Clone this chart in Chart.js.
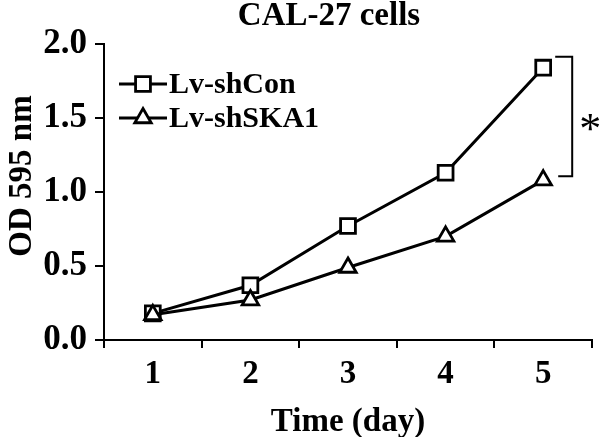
<!DOCTYPE html>
<html><head><meta charset="utf-8">
<script src="https://cdn.jsdelivr.net/npm/chart.js@4/dist/chart.umd.min.js"></script>
<style>html,body{margin:0;padding:0;background:#fff;} #wrap{width:600px;height:437px;position:relative;}</style>
</head><body><div id="wrap"><canvas id="c" width="600" height="437"></canvas></div>
<script>
const days = ['1', '2', '3', '4', '5'];
const shCon = [0.18, 0.37, 0.77, 1.13, 1.84];
const shSKA1 = [0.17, 0.27, 0.49, 0.70, 1.08];
const yTicks = [0, 0.5, 1.0, 1.5, 2.0];
const seriesNames = ['Lv-shCon', 'Lv-shSKA1'];
const chartTitle = 'CAL-27 cells';
const xTitle = 'Time (day)';
const yTitle = 'OD 595 nm';
const sigMark = '*';

const FONT = '"Liberation Serif", "Times New Roman", serif';

function marker(ctx, style, r, x, y) {
  ctx.save();
  ctx.lineWidth = 2.8;
  ctx.strokeStyle = '#000';
  ctx.fillStyle = '#fff';
  ctx.beginPath();
  if (style === 'rect') {
    const s = r * Math.SQRT1_2;
    ctx.rect(x - s, y - s, 2 * s, 2 * s);
  } else {
    for (let i = 0; i < 3; i++) {
      const a = -Math.PI / 2 + i * 2 * Math.PI / 3;
      const px = x + r * Math.cos(a), py = y + r * Math.sin(a);
      if (i === 0) ctx.moveTo(px, py); else ctx.lineTo(px, py);
    }
    ctx.closePath();
  }
  ctx.fill();
  ctx.stroke();
  ctx.restore();
}

const decor = {
  id: 'decor',
  afterDraw(chart) {
    const ctx = chart.ctx;
    const xs = chart.scales.x, ys = chart.scales.y;
    ctx.save();
    ctx.fillStyle = '#000';
    ctx.font = 'bold 33px ' + FONT;
    ctx.textAlign = 'center';
    ctx.textBaseline = 'alphabetic';
    ctx.fillText(chartTitle, 329, 25);
    ctx.save();
    ctx.translate(22, 176);
    ctx.rotate(-Math.PI / 2);
    ctx.textBaseline = 'middle';
    ctx.fillText(yTitle, 0, 0);
    ctx.restore();
    const rows = [{name: seriesNames[0], style: 'rect', r: 10.5, y: 84},
                  {name: seriesNames[1], style: 'triangle', r: 9.5, y: 118}];
    rows.forEach(row => {
      ctx.strokeStyle = '#000';
      ctx.lineWidth = 3;
      ctx.beginPath();
      ctx.moveTo(119, row.y);
      ctx.lineTo(167, row.y);
      ctx.stroke();
      marker(ctx, row.style, row.r, 143, row.y);
      ctx.fillStyle = '#000';
      ctx.font = 'bold 30px ' + FONT;
      ctx.textAlign = 'left';
      ctx.textBaseline = 'middle';
      ctx.fillText(row.name, 169, row.y + 1);
    });
    const last = days.length - 1;
    const x5 = xs.getPixelForValue(last);
    const yTop = ys.getPixelForValue(shCon[last]) - 11;
    const yBot = ys.getPixelForValue(shSKA1[last]) - 4;
    const bx = x5 + 29;
    ctx.strokeStyle = '#000';
    ctx.lineWidth = 2;
    ctx.beginPath();
    ctx.moveTo(x5 + 12, yTop);
    ctx.lineTo(bx, yTop);
    ctx.lineTo(bx, yBot);
    ctx.lineTo(x5 + 15, yBot);
    ctx.stroke();
    ctx.font = '44px ' + FONT;
    ctx.textAlign = 'center';
    ctx.textBaseline = 'alphabetic';
    ctx.fillText(sigMark, bx + 18, (yTop + yBot) / 2 + 27);
    ctx.restore();
  }
};

new Chart(document.getElementById('c'), {
  type: 'line',
  data: {
    labels: days,
    datasets: [
      {label: seriesNames[0], data: shCon, borderColor: '#000', borderWidth: 3,
       pointStyle: 'rect', pointRadius: 10.5, pointBorderWidth: 2.8,
       pointBackgroundColor: '#fff', pointBorderColor: '#000', tension: 0, order: 1},
      {label: seriesNames[1], data: shSKA1, borderColor: '#000', borderWidth: 3,
       pointStyle: 'triangle', pointRadius: 9.5, pointBorderWidth: 2.8,
       pointBackgroundColor: '#fff', pointBorderColor: '#000', tension: 0, order: 0}
    ]
  },
  options: {
    responsive: false,
    animation: false,
    devicePixelRatio: 1,
    layout: {autoPadding: false, padding: {top: 44, right: 8, left: 0, bottom: 0}},
    plugins: {legend: {display: false}, title: {display: false}, tooltip: {enabled: false}},
    scales: {
      x: {
        type: 'category',
        offset: true,
        grid: {offset: true, drawOnChartArea: false, tickLength: 8, color: '#000', lineWidth: 2},
        border: {color: '#000', width: 2},
        ticks: {color: '#000', padding: 7, font: {family: FONT, size: 33, weight: 'bold'}, maxRotation: 0},
        title: {display: true, text: xTitle, color: '#000', font: {family: FONT, size: 33, weight: 'bold', lineHeight: 0.9}, padding: {top: 0, bottom: 0}},
        afterFit(s) { s.height = 97; }
      },
      y: {
        min: 0, max: 2,
        afterBuildTicks(s) { s.ticks = yTicks.map(v => ({value: v})); },
        grid: {drawOnChartArea: false, tickLength: 9, color: '#000', lineWidth: 2},
        border: {color: '#000', width: 2},
        ticks: {color: '#000', padding: 8, font: {family: FONT, size: 35, weight: 'bold'},
                callback: v => Number(v).toFixed(1)},
        afterFit(s) { s.width = 104; }
      }
    }
  },
  plugins: [decor]
});
</script>
</body></html>
